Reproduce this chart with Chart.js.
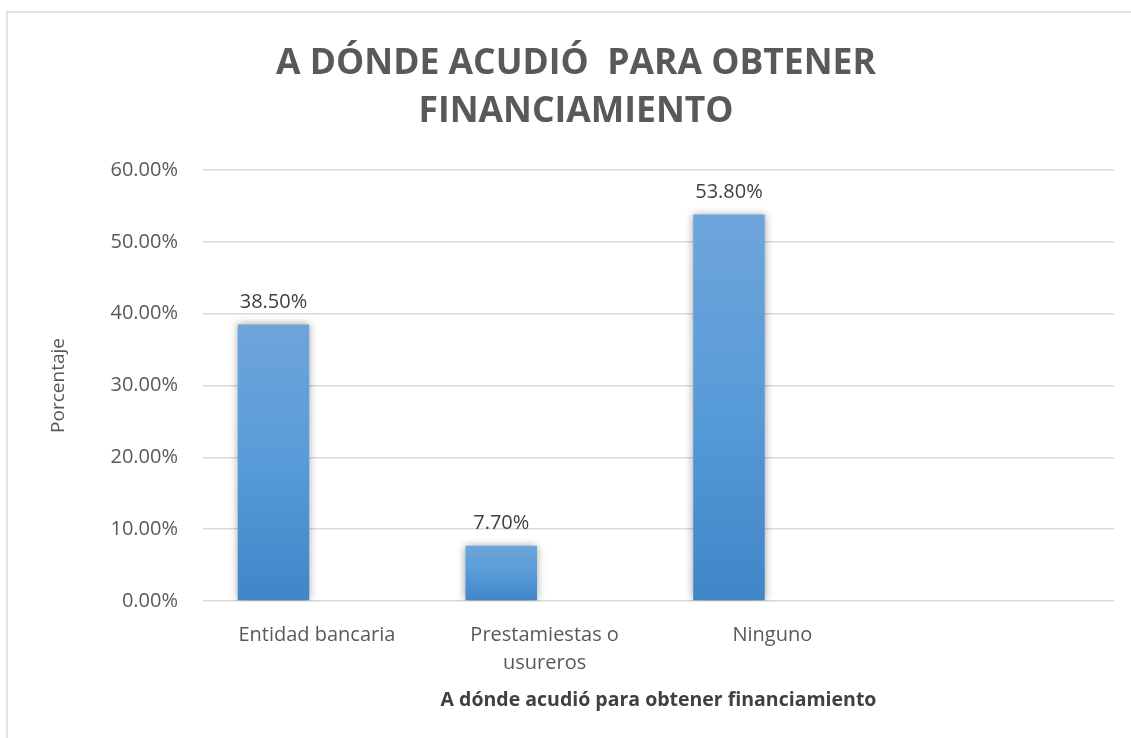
<!DOCTYPE html>
<html>
<head>
<meta charset="utf-8">
<script src="https://cdn.jsdelivr.net/npm/chart.js@4.4.1/dist/chart.umd.min.js"></script>
<style>
  html, body { margin: 0; padding: 0; background: #ffffff; }
  #wrap { position: relative; width: 1131px; height: 738px; }
  canvas { display: block; }
</style>
</head>
<body>
<div id="wrap"><canvas id="c" width="1131" height="738"></canvas></div>
<script>
const titleLines = ["A DÓNDE ACUDIÓ  PARA OBTENER", "FINANCIAMIENTO"];
const categories = ["Entidad bancaria", ["Prestamiestas o", "usureros"], "Ninguno", ""];
const porcentajes = [38.5, 7.7, 53.8, null];
const serieVacia = [null, null, null, null];
const yTicks = [0, 10, 20, 30, 40, 50, 60];
const xTitle = "A dónde acudió para obtener financiamiento";
const yTitle = "Porcentaje";

function fmt(v) { return v.toFixed(2) + "%"; }

const frame = {
  id: 'frame',
  beforeDraw(chart) {
    const ctx = chart.ctx;
    ctx.save();
    ctx.strokeStyle = '#d9d9d9';
    ctx.lineWidth = 1.5;
    ctx.beginPath();
    ctx.moveTo(7, 760);
    ctx.lineTo(7, 12);
    ctx.lineTo(1140, 12);
    ctx.stroke();
    ctx.restore();
  }
};

const barShadow = {
  id: 'barShadow',
  beforeDatasetDraw(chart) {
    const ctx = chart.ctx;
    ctx.save();
    ctx.shadowColor = 'rgba(0,0,0,0.38)';
    ctx.shadowBlur = 8;
    ctx.shadowOffsetX = 0;
    ctx.shadowOffsetY = 0;
  },
  afterDatasetDraw(chart) {
    chart.ctx.restore();
  }
};

const valueLabels = {
  id: 'valueLabels',
  afterDatasetsDraw(chart) {
    const ctx = chart.ctx;
    const meta = chart.getDatasetMeta(0);
    ctx.save();
    ctx.font = '20px "Open Sans"';
    ctx.fillStyle = '#404040';
    ctx.textAlign = 'center';
    ctx.textBaseline = 'middle';
    meta.data.forEach((bar, i) => {
      const v = porcentajes[i];
      if (v === null || v === undefined) return;
      ctx.fillText(fmt(v), bar.x, bar.y - 22);
    });
    ctx.restore();
  }
};

function barGradient(context) {
  const chart = context.chart;
  const y = chart.scales && chart.scales.y;
  const v = context.raw;
  if (!y || v === null || v === undefined || !chart.chartArea) return '#5b9bd5';
  const top = y.getPixelForValue(v);
  const base = y.getPixelForValue(0);
  const g = chart.ctx.createLinearGradient(0, top, 0, base);
  g.addColorStop(0, '#6ea5da');
  g.addColorStop(0.5, '#589bd9');
  g.addColorStop(1, '#4085c7');
  return g;
}

new Chart(document.getElementById('c'), {
  type: 'bar',
  data: {
    labels: categories,
    datasets: [
      { label: 'Porcentaje', data: porcentajes, backgroundColor: barGradient, borderWidth: 0 },
      { label: '', data: serieVacia, backgroundColor: 'rgba(0,0,0,0)', borderWidth: 0 }
    ]
  },
  options: {
    responsive: false,
    animation: false,
    devicePixelRatio: 1,
    categoryPercentage: 0.762,
    barPercentage: 0.824,
    layout: { padding: { left: 38, right: 17, top: 0, bottom: 0 } },
    plugins: {
      legend: { display: false },
      tooltip: { enabled: false },
      title: {
        display: true,
        text: titleLines,
        color: '#595959',
        font: { family: '"Open Sans"', size: 35.5, weight: 'bold', lineHeight: 1.352 },
        padding: { top: 40, bottom: 34 }
      }
    },
    scales: {
      x: {
        grid: { display: false, drawTicks: false },
        border: { display: false },
        ticks: {
          color: '#595959',
          font: { family: '"Open Sans"', size: 20, lineHeight: 1.4 },
          padding: 20,
          maxRotation: 0,
          autoSkip: false
        },
        title: {
          display: true,
          text: xTitle,
          color: '#404040',
          font: { family: '"Open Sans"', size: 19.5, weight: 'bold', lineHeight: 1.2 },
          padding: { top: 10, bottom: 26 }
        },
        afterFit(scale) { scale.height = 137; }
      },
      y: {
        min: 0,
        max: 60,
        afterBuildTicks(scale) { scale.ticks = yTicks.map(v => ({ value: v })); },
        grid: { color: '#d9d9d9', lineWidth: 1.5, drawTicks: false },
        border: { display: false },
        ticks: {
          color: '#595959',
          font: { family: '"Open Sans"', size: 20 },
          padding: 25,
          callback: (v) => fmt(v)
        },
        title: {
          display: true,
          text: yTitle,
          color: '#595959',
          font: { family: '"Open Sans"', size: 19, lineHeight: 1.2 },
          padding: { top: 9, bottom: 0 }
        },
        afterFit(scale) { scale.width = 165; }
      }
    }
  },
  plugins: [frame, barShadow, valueLabels]
});
</script>
</body>
</html>
